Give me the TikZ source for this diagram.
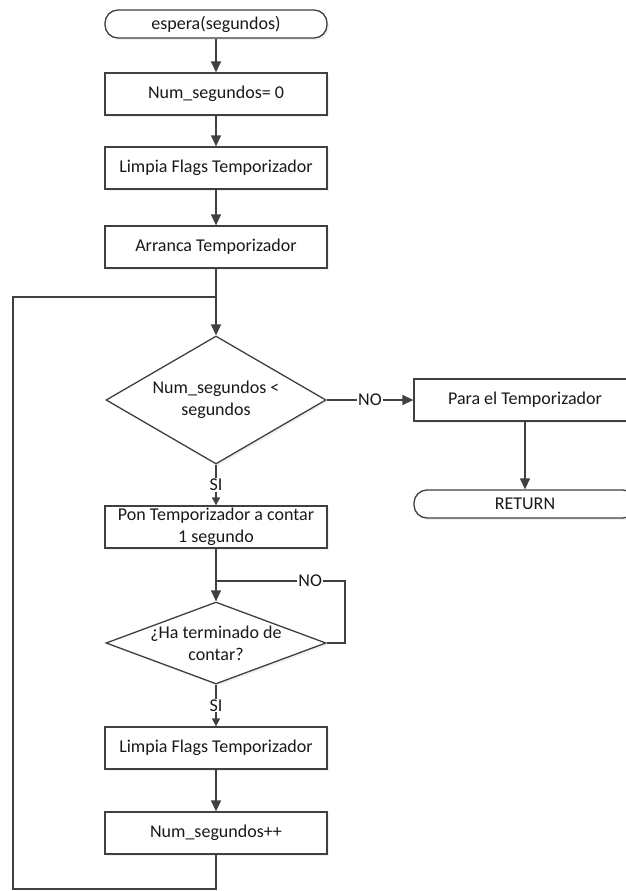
\documentclass[tikz,border=0pt]{standalone}
\usepackage{fontspec}
\setmainfont{Carlito}
\usetikzlibrary{arrows.meta,shapes.geometric,shadows}
\definecolor{linegray}{RGB}{64,64,64}
\definecolor{textgray}{RGB}{25,25,25}
\tikzset{
  chart/.style={
    line width=1.3pt,
    draw=linegray,
    text=textgray,
    font=\fontsize{18}{22}\selectfont
  },
  box/.style={
    chart,
    rectangle,
    fill=white,
    minimum width=222pt,
    minimum height=42pt,
    inner sep=1pt,
    align=center,
    drop shadow={opacity=0.12, shadow xshift=2pt, shadow yshift=-2pt}
  },
  box-end/.style={box, rounded corners=13pt, minimum height=28pt},
  decision/.style={
    chart,
    diamond,
    fill=white,
    inner sep=0pt,
    minimum width=220pt,
    drop shadow={opacity=0.12, shadow xshift=2pt, shadow yshift=-2pt}
  },
  decision-text/.style={text=textgray, font=\fontsize{18}{22}\selectfont, align=center, inner sep=0pt},
  link/.style={line width=1.3pt, draw=linegray},
  flow/.style={link, -{Triangle[length=11pt,width=10pt]}},
  flow-small/.style={link, -{Triangle[length=8pt,width=8pt]}},
  answer/.style={fill=white, text=textgray, font=\fontsize{18}{22}\selectfont, inner sep=1pt}
}

\begin{document}
\begin{tikzpicture}[x=1pt,y=-1pt]
  \useasboundingbox (0,0) rectangle (625,891);
  % Main column
  \node[box-end] (start) at (216,24) {espera(segundos)};
  \node[box] (zero) at (216,94) {Num\_segundos= 0};
  \node[box] (clear-a) at (216,168) {Limpia Flags Temporizador};
  \node[box] (run) at (216,247) {Arranca Temporizador};
  \node[decision, minimum height=128pt,
    label={[decision-text]center:{Num\_segundos <\\segundos}}] (check) at (216,400) {};
  \node[box] (tick) at (216,527) {Pon Temporizador a contar\\1 segundo};
  \node[decision, minimum height=82pt,
    label={[decision-text]center:{¿Ha terminado de\\contar?}}] (done) at (216,643) {};
  \node[box] (clear-b) at (216,748) {Limpia Flags Temporizador};
  \node[box] (inc) at (216,833) {Num\_segundos++};
  % Exit branch
  \node[box] (stop) at (525,400) {Para el Temporizador};
  \node[box-end] (ret) at (525,504) {RETURN};
  % Loop corners
  \coordinate (join) at (216,297);
  \coordinate (back) at (13,889);
  \coordinate (retry) at (345,581);
  \coordinate (merge) at (216,581);
  % Arrows
  \draw[flow] (start) -- (zero);
  \draw[flow] (zero) -- (clear-a);
  \draw[flow] (clear-a) -- (run);
  \draw[flow] (run) -- (check);
  \draw[flow] (check) -- node[answer]{NO} (stop);
  \draw[flow] (stop) -- (ret);
  \draw[flow-small] (check) -- node[answer]{SI} (tick);
  \draw[flow] (tick) -- (done);
  \draw[flow-small] (done) -- node[answer]{SI} (clear-b);
  \draw[flow] (clear-b) -- (inc);
  % Loops back
  \draw[link] (done.east) -| (retry) -- node[answer, pos=0.27]{NO} (merge);
  \draw[link] (inc) |- (back) |- (join);
\end{tikzpicture}
\end{document}
